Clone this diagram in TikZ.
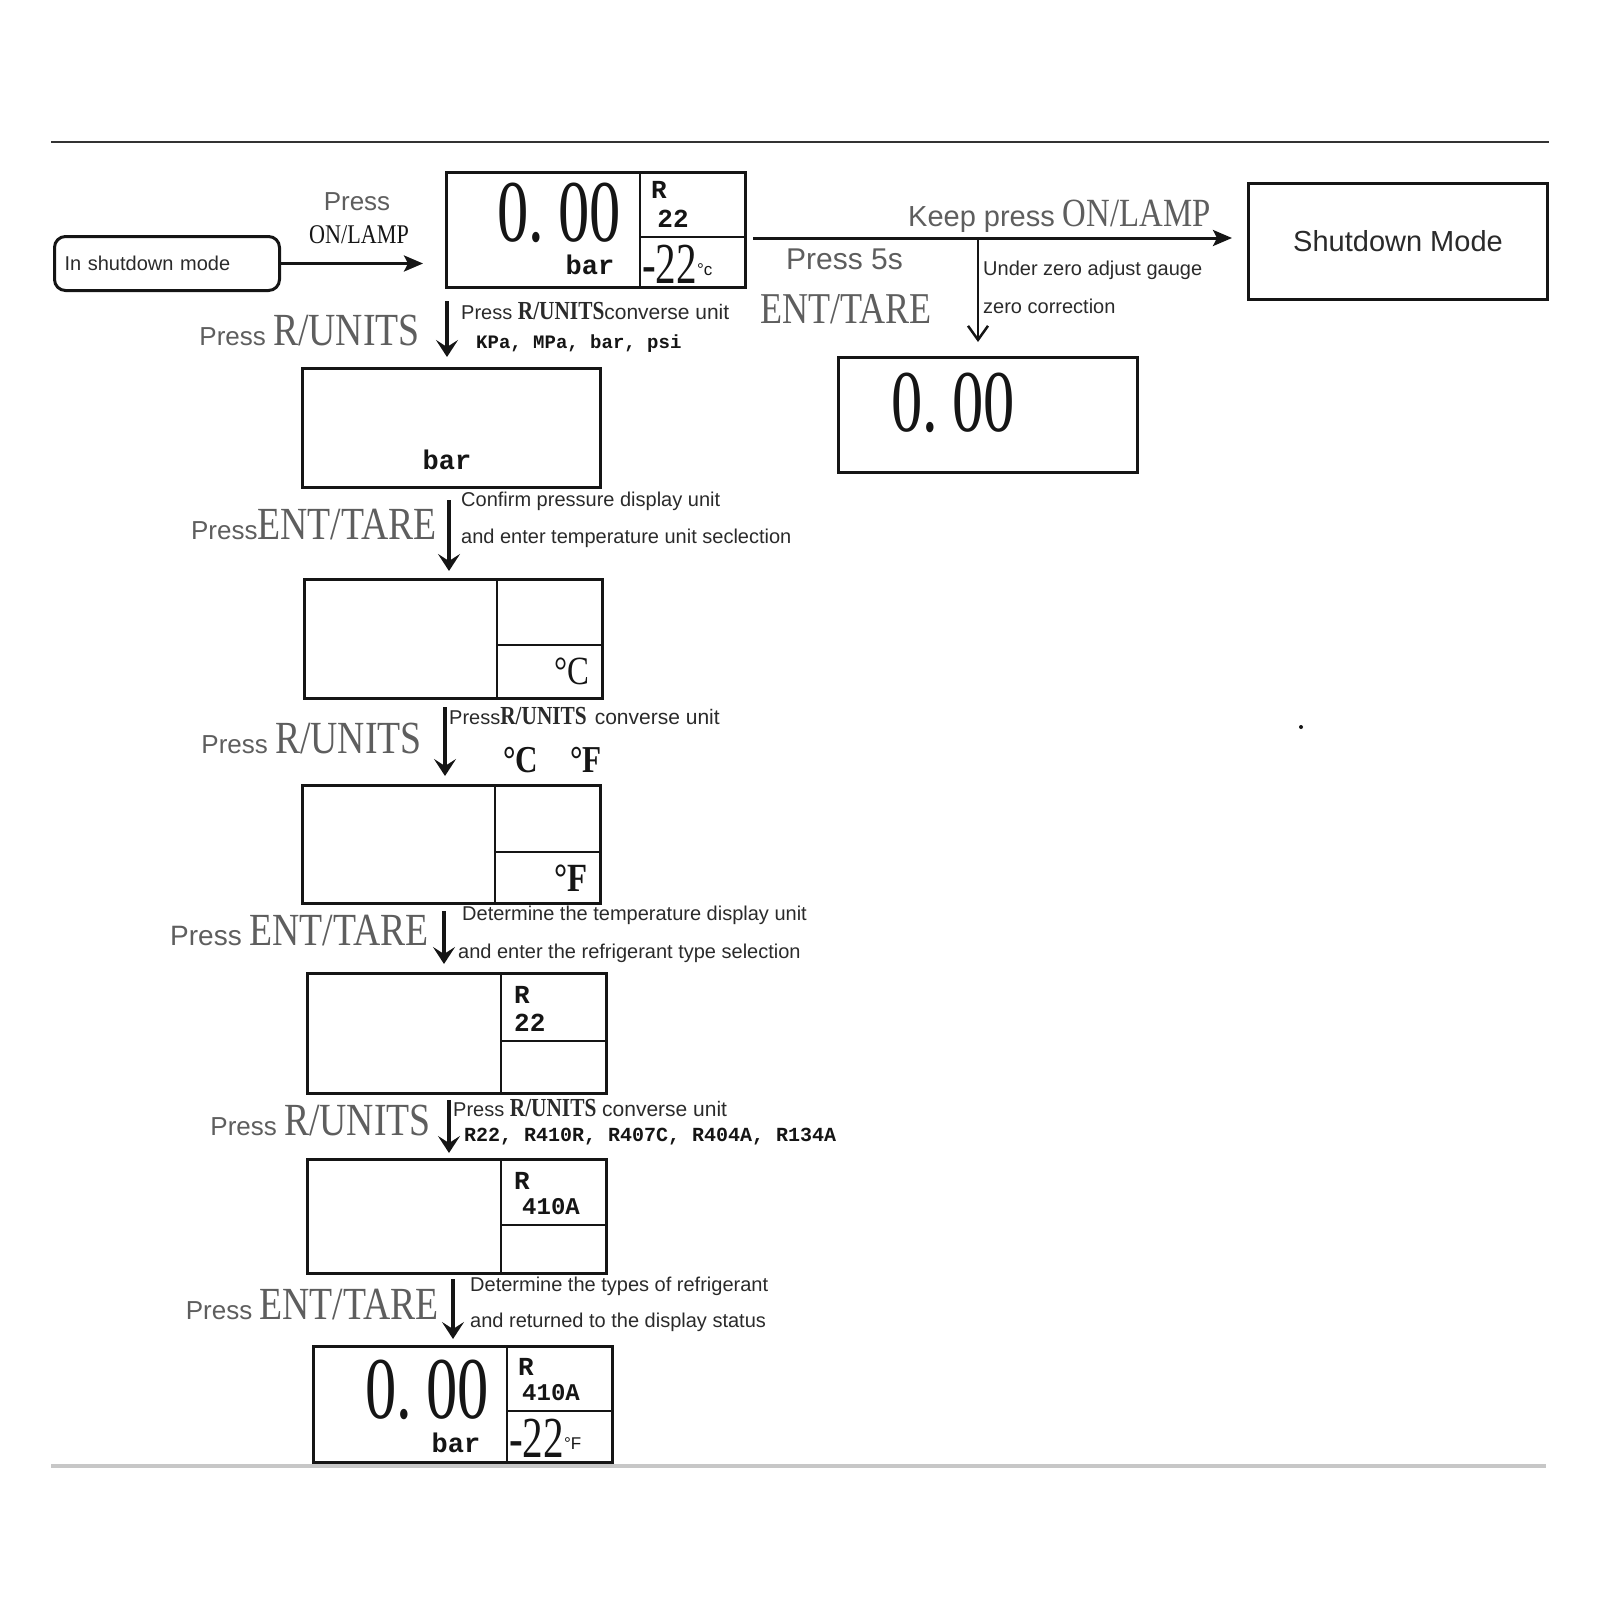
\documentclass[tikz,border=0pt]{standalone}
\usepackage{fontspec}
\usepackage{graphicx}
\setmainfont{Liberation Sans}
\newfontfamily\cond[FakeStretch=0.82]{Liberation Serif}
\newfontfamily\digs[FakeStretch=0.71]{Liberation Serif}
\newfontfamily\monob{Liberation Mono}
\usetikzlibrary{arrows.meta}
\newcommand\fs[1]{\fontsize{#1}{#1}\selectfont}
\definecolor{lab}{HTML}{5E5E5E}
\definecolor{note}{HTML}{2A2A2A}
\definecolor{ink}{HTML}{151515}
\begin{document}
\begin{tikzpicture}[x=1pt,y=-1pt,
  dbox/.style={draw=ink, line width=3pt, anchor=north west, inner sep=0pt},
  div/.style={draw=ink, line width=2pt},
  plab/.style={anchor=base east, text=lab, inner sep=0pt},
  pnote/.style={anchor=west, text=note, font=\fs{20}, inner sep=0pt},
  darr/.style={draw=ink, line width=3.5pt, -{Stealth[length=17pt,width=22pt,inset=7pt]}},
  tarr/.style={draw=ink, line width=2.5pt, -{Straight Barb[length=14pt,width=20pt]}},
  harr/.style={draw=ink, line width=3pt, -{Stealth[length=19pt,width=16pt,inset=4pt]}},
  bignum/.style={inner sep=0pt, text=ink, font=\digs\fs{88}, text height=60pt, text depth=0pt},
  mono/.style={inner sep=0pt, text=ink, font=\monob\bfseries\fs{26}},
]
\useasboundingbox (0,0) rectangle (1600,1600);
% frame lines
\draw[line width=2pt, draw=black!80] (51,142) -- (1549,142);
\draw[line width=4pt, draw=black!22] (51,1466) -- (1546,1466);

% ---------- top row ----------
\node[dbox, rounded corners=11pt, minimum width=225pt, minimum height=54pt,
      text width=205pt, align=left, font=\fs{20}, text=note] (sd) at (53,235) {In shutdown mode};
\node[dbox, minimum width=299pt, minimum height=115pt] (b1) at (445,171) {};
\node[dbox, minimum width=299pt, minimum height=116pt, font=\fs{29}, text=note] (sh) at (1247,182) {Shutdown Mode};
\node[dbox, minimum width=299pt, minimum height=115pt] (rb) at (837,356) {};

\draw[harr, shorten >=22pt] (sd.east) -- (sd.east -| b1.west);
\node[text=lab, font=\fs{26}, inner sep=0pt] (t1) at (357,202) {Press};
\node[text=ink, font=\cond\fs{27}, inner sep=0pt] (t2) at (359,235) {ON/LAMP};

% box 1 contents
\draw[div] (640,171) -- (640,286);
\draw[div] (640,237) -- (744,237);
\node[bignum] (n1) at (559,211) {0.\,00};
\node[mono, font=\monob\bfseries\fs{27}] (u1) at (590,265) {bar};
\node[mono, anchor=west] (r1) at (651,190) {R};
\node[mono] (r1b) at (673,219) {22};
\node[anchor=base west, inner sep=0pt, text=ink] (t1b) at (642,283) {{\digs\fs{58}-22}{\raisebox{8pt}{\fs{17}°c}}};

% horizontal arrow to shutdown
\coordinate (j) at (978,238);
\draw[harr, shorten <=6pt, shorten >=15pt] (b1.east |- j) -- (sh.west |- j);
\node[anchor=base west, inner sep=0pt, text=lab] (kp) at (908,226) {{\fs{29}Keep press }{\cond\fs{40}ON/LAMP}};
\node[anchor=base west, inner sep=0pt, text=lab, font=\fs{30}] (p5) at (786,269) {Press 5s};
\node[anchor=base west, inner sep=0pt, text=lab, font=\cond\fs{44}] (et) at (760,323) {ENT/TARE};
\draw[tarr, shorten >=14pt] (j) -- (j |- rb.north);
\node[pnote] (z1) at (983,270) {Under zero adjust gauge};
\node[pnote] (z2) at (983,306) {zero correction};
\node[bignum] (n2) at (953,401) {0.\,00};

% ---------- column ----------
\node[dbox, minimum width=298pt, minimum height=119pt] (b2) at (301,367) {};
\node[mono, font=\monob\bfseries\fs{27}] (u2) at (447,460) {bar};

\node[dbox, minimum width=298pt, minimum height=119pt] (b3) at (303,578) {};
\draw[div] (497,578) -- (497,697);
\draw[div] (497,645) -- (601,645);
\node[inner sep=0pt, text=ink, font=\cond\fs{40}] (c3) at (572,671) {°C};

\node[dbox, minimum width=298pt, minimum height=118pt] (b4) at (301,784) {};
\draw[div] (495,784) -- (495,902);
\draw[div] (495,852) -- (599,852);
\node[inner sep=0pt, text=ink, font=\cond\bfseries\fs{40}] (f4) at (571,878) {°F};

\node[dbox, minimum width=299pt, minimum height=120pt] (b5) at (306,972) {};
\draw[div] (501,972) -- (501,1092);
\draw[div] (501,1041) -- (605,1041);
\node[mono, anchor=west] (r5) at (514,995) {R};
\node[mono, anchor=west] (r5b) at (514,1023) {22};

\node[dbox, minimum width=299pt, minimum height=114pt] (b6) at (306,1158) {};
\draw[div] (501,1158) -- (501,1272);
\draw[div] (501,1225) -- (605,1225);
\node[mono, anchor=west] (r6) at (514,1181) {R};
\node[mono, anchor=west, font=\monob\bfseries\fs{24}] (r6b) at (522,1207) {410A};

\node[dbox, minimum width=299pt, minimum height=116pt] (b7) at (312,1345) {};
\draw[div] (507,1345) -- (507,1461);
\draw[div] (507,1411) -- (611,1411);
\node[bignum] (n7) at (427,1388) {0.\,00};
\node[mono, font=\monob\bfseries\fs{27}] (u7) at (456,1443) {bar};
\node[mono, anchor=west] (r7) at (518,1367) {R};
\node[mono, anchor=west, font=\monob\bfseries\fs{24}] (r7b) at (522,1393) {410A};
\node[anchor=base west, inner sep=0pt, text=ink] (t7b) at (509,1457) {{\digs\fs{58}-22}{\raisebox{8pt}{\fs{17}°F}}};

% arrows
\draw[darr, shorten <=12pt, shorten >=10pt] (b1.south -| 447,0) -- (b2.north -| 447,0);
\draw[darr, shorten <=11pt, shorten >=7pt] (b2.south -| 449,0) -- (b3.north -| 449,0);
\draw[darr, shorten <=7pt, shorten >=8pt] (b3.south -| 445,0) -- (b4.north -| 445,0);
\draw[darr, shorten <=6pt, shorten >=8pt] (b4.south -| 444,0) -- (b5.north -| 444,0);
\draw[darr, shorten <=5pt, shorten >=5pt] (b5.south -| 449,0) -- (b6.north -| 449,0);
\draw[darr, shorten <=4pt, shorten >=6pt] (b6.south -| 453,0) -- (b7.north -| 453,0);

% left labels
\node[plab] (l1) at (420,345) {{\fs{26}Press }{\cond\fs{46}R/UNITS}};
\node[plab] (l2) at (437,539) {{\fs{26}Press}{\cond\fs{46}ENT/TARE}};
\node[plab] (l3) at (422,753) {{\fs{26}Press }{\cond\fs{46}R/UNITS}};
\node[plab] (l4) at (429,945) {{\fs{28}Press }{\cond\fs{46}ENT/TARE}};
\node[plab] (l5) at (431,1135) {{\fs{26}Press }{\cond\fs{46}R/UNITS}};
\node[plab] (l6) at (439,1319) {{\fs{26}Press }{\cond\fs{46}ENT/TARE}};

% right notes
\node[anchor=base west, inner sep=0pt, text=note] (m1) at (461,319) {{\fs{20}Press }{\cond\bfseries\fs{26}R/UNITS}{\fs{21}converse unit}};
\node[anchor=base west, inner sep=0pt, text=ink, font=\monob\bfseries\fs{19}] (m1b) at (476,348) {KPa, MPa, bar, psi};
\node[pnote] (m2) at (461,501) {Confirm pressure display unit};
\node[pnote] (m2b) at (461,538) {and enter temperature unit seclection};
\node[anchor=base west, inner sep=0pt, text=note] (m3) at (449,724) {{\fs{20}Press}{\cond\bfseries\fs{26}R/UNITS}\hspace{8pt}{\fs{21}converse unit}};
\node[anchor=base west, inner sep=0pt, text=ink, font=\cond\bfseries\fs{38}] (m3b) at (503,772) {°C\hspace{32pt}°F};
\node[pnote] (m4) at (462,915) {Determine the temperature display unit};
\node[pnote] (m4b) at (458,953) {and enter the refrigerant type selection};
\node[anchor=base west, inner sep=0pt, text=note] (m5) at (453,1116) {{\fs{20}Press }{\cond\bfseries\fs{26}R/UNITS}{\fs{21} converse unit}};
\node[anchor=base west, inner sep=0pt, text=ink, font=\monob\bfseries\fs{20}] (m5b) at (464,1141) {R22, R410R, R407C, R404A, R134A};
\node[pnote] (m6) at (470,1286) {Determine the types of refrigerant};
\node[pnote] (m6b) at (470,1322) {and returned to the display status};

% stray dot
\fill[ink] (1301,727) circle (2pt);
\end{tikzpicture}
\end{document}
